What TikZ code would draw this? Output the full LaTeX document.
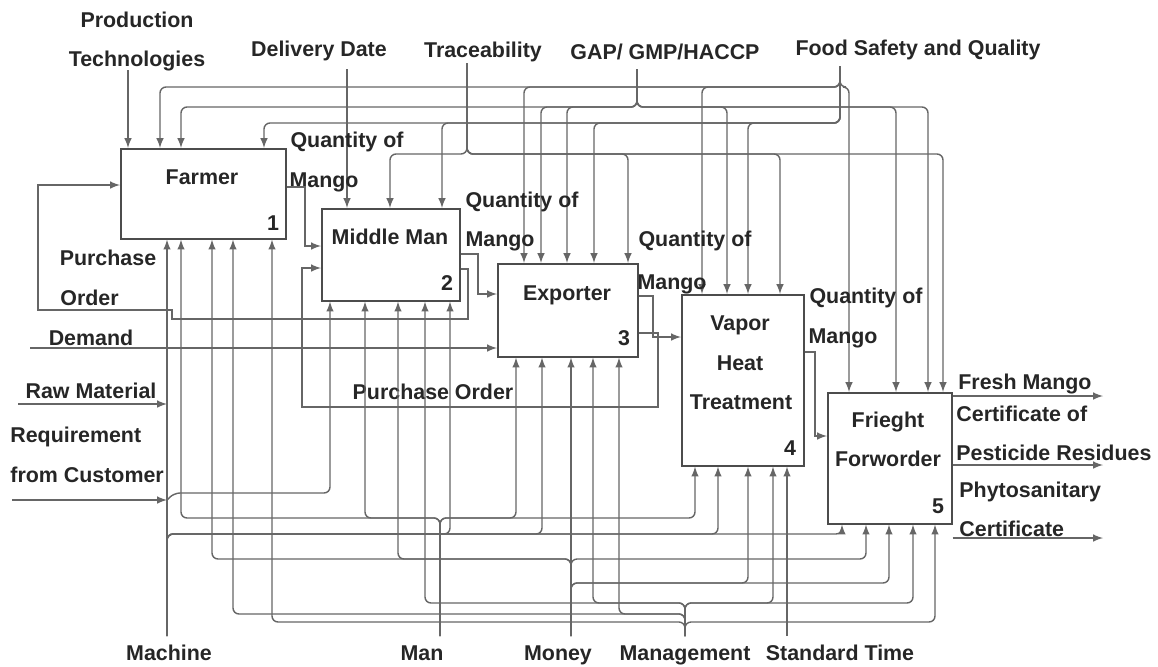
\documentclass[tikz,border=0pt]{standalone}
\usepackage{fontspec}
\setmainfont{Liberation Sans}
\usetikzlibrary{calc,positioning,arrows}

\begin{document}
\begin{tikzpicture}[x=0.5pt, y=-0.5pt,
  every node/.style={font=\bfseries\fontsize{10.7}{12}\selectfont, text=black!85},
  lbl/.style={inner sep=0pt, text height=7.7pt, text depth=0pt},
  process/.style={draw=black!70, line width=0.8pt, fill=white, inner sep=0pt, anchor=north west},
  flow/.style={draw=black!60, line width=0.7pt},
  arr/.style={flow, -latex},
  rail/.style={arr, rounded corners=3pt}]
  \useasboundingbox (0,0) rectangle (1158,666);

  % activities
  \node [process, minimum width=82.5pt, minimum height=45pt] (farmer) at (120,148) {};
  \node [process, minimum width=69pt, minimum height=46pt] (middle) at (321,208) {};
  \node [process, minimum width=70pt, minimum height=46.5pt] (exporter) at (497,263) {};
  \node [process, minimum width=61pt, minimum height=85.5pt] (vapor) at (681,294) {};
  \node [process, minimum width=62pt, minimum height=65.5pt] (frieght) at (827,392) {};

  \node [lbl] (farmer name) at (202,177) {Farmer};
  \node [lbl] (farmer num) at (273,223) {1};
  \node [lbl] (middle name) at (390,237) {Middle Man};
  \node [lbl] (middle num) at (447,283) {2};
  \node [lbl] (exporter name) at (567,293) {Exporter};
  \node [lbl] (exporter num) at (624,338) {3};
  \node [lbl] (vapor name 1) at (740,323) {Vapor};
  \node [lbl] (vapor name 2) at (740,363) {Heat};
  \node [lbl] (vapor name 3) at (741,402) {Treatment};
  \node [lbl] (vapor num) at (790,448) {4};
  \node [lbl] (frieght name 1) at (888,420) {Frieght};
  \node [lbl] (frieght name 2) at (888,459) {Forworder};
  \node [lbl] (frieght num) at (938,506) {5};

  % controls
  \node [lbl] (prod label 1) at (137,20) {Production};
  \node [lbl] (prod label 2) at (137,59) {Technologies};
  \node [lbl] (date label) at (319,49) {Delivery Date};
  \node [lbl] (trace label) at (483,50) {Traceability};
  \node [lbl] (gap label) at (665,52) {GAP/ GMP/HACCP};
  \node [lbl] (food label) at (918,48) {Food Safety and Quality};
  \coordinate (prod in) at (128,70);
  \coordinate (date in) at (347,69);
  \coordinate (trace in) at (467,63);
  \coordinate (gap in) at (637,69);
  \coordinate (food in) at (840,66);

  \draw [arr] (prod in) -- (prod in |- farmer.north);
  \draw [arr] (date in) -- (date in |- middle.north);
  \foreach \x/\b in {160/farmer,524/exporter,702/vapor,849/frieght}
    \draw [rail] (food in) |- (\x,87) -- (\x,0 |- \b.north);
  \foreach \x/\b in {264/farmer,442/middle,594/exporter,748/vapor}
    \draw [rail] (food in) |- (\x,123) -- (\x,0 |- \b.north);
  \foreach \x/\b in {181/farmer,541/exporter,567/exporter,727/vapor,896/frieght,928/frieght}
    \draw [rail] (gap in) |- (\x,107) -- (\x,0 |- \b.north);
  \foreach \x/\b in {390/middle,628/exporter,780/vapor,943/frieght}
    \draw [rail] (trace in) |- (\x,154) -- (\x,0 |- \b.north);

  % inputs
  \node [lbl] (po label 1) at (108,258) {Purchase};
  \node [lbl, anchor=west] (po label 2) at (60,298) {Order};
  \node [lbl] (demand label) at (91,338) {Demand};
  \node [lbl] (raw label) at (91,391) {Raw Material};
  \node [lbl, anchor=west] (req label 1) at (10,435) {Requirement};
  \node [lbl, anchor=west] (req label 2) at (10,475) {from Customer};
  \coordinate (demand in) at (30,348);
  \coordinate (raw in) at (18,404);
  \coordinate (req in) at (12,500);

  \draw [arr] (demand in) -- (demand in -| exporter.west);
  \draw [arr] (raw in) -- (raw in -| 167,0);
  \draw [arr] (req in) -- (req in -| 167,0);
  \draw [rail] (167,500) -- (174,493) -| (330,0 |- middle.south);

  % flows between activities
  \node [lbl] (q1 label 1) at (347,140) {Quantity of};
  \node [lbl] (q1 label 2) at (324,180) {Mango};
  \node [lbl] (q2 label 1) at (522,200) {Quantity of};
  \node [lbl] (q2 label 2) at (500,239) {Mango};
  \node [lbl] (q3 label 1) at (695,239) {Quantity of};
  \node [lbl] (q3 label 2) at (672,282) {Mango};
  \node [lbl] (q4 label 1) at (866,296) {Quantity of};
  \node [lbl] (q4 label 2) at (843,336) {Mango};
  \node [lbl] (po label 3) at (433,392) {Purchase Order};

  \draw [arr] (farmer.east |- 0,187) -| (305,246) -- (middle.west |- 0,246);
  \draw [arr] (middle.east |- 0,254) -| (478,294) -- (exporter.west |- 0,294);
  \draw [arr] (exporter.east |- 0,296) -| (653,337) -- (vapor.west |- 0,337);
  \draw [arr] (vapor.east |- 0,352) -| (815,436) -- (frieght.west |- 0,436);
  \draw [arr] (exporter.east |- 0,333) -| (658,407) -| (302,268) -- (middle.west |- 0,268);
  \draw [arr] (middle.east |- 0,269) -| (468,319) -- (172,319) -- (172,310) -| (38,185)
    -- (farmer.west |- 0,185);

  % outputs
  \node [lbl, anchor=west] (out label 1) at (958,382) {Fresh Mango};
  \node [lbl, anchor=west] (out label 2) at (956,414) {Certificate of};
  \node [lbl, anchor=west] (out label 3) at (956,453) {Pesticide Residues};
  \node [lbl, anchor=west] (out label 4) at (959,490) {Phytosanitary};
  \node [lbl, anchor=west] (out label 5) at (959,529) {Certificate};
  \foreach \y in {396,465,538}
    \draw [arr] (frieght.east |- 0,\y) -- (1103,\y);

  % mechanisms
  \node [lbl] (machine label) at (169,653) {Machine};
  \node [lbl] (man label) at (422,653) {Man};
  \node [lbl] (money label) at (558,653) {Money};
  \node [lbl] (mgmt label) at (685,653) {Management};
  \node [lbl] (time label) at (840,653) {Standard Time};
  \coordinate (machine out) at (167,636);
  \coordinate (man out) at (440,636);
  \coordinate (money out) at (571,636);
  \coordinate (mgmt out) at (685,636);
  \coordinate (time out) at (787,636);

  \draw [arr] (machine out) -- (machine out |- farmer.south);
  \draw [arr] (money out) -- (money out |- exporter.south);
  \draw [arr] (time out) -- (time out |- vapor.south);
  \foreach \x/\b in {450/middle,542/exporter,718/vapor,842/frieght}
    \draw [rail] (machine out) |- (\x,534) -- (\x,0 |- \b.south);
  \foreach \x/\b in {181/farmer,365/middle,516/exporter,695/vapor}
    \draw [rail] (man out) |- (\x,518) -- (\x,0 |- \b.south);
  \foreach \x/\b in {212/farmer,398/middle,866/frieght}
    \draw [rail] (money out) |- (\x,559) -- (\x,0 |- \b.south);
  \foreach \x/\b in {748/vapor,889/frieght}
    \draw [rail] (money out) |- (\x,583) -- (\x,0 |- \b.south);
  \foreach \x/\b in {425/middle,593/exporter,773/vapor,913/frieght}
    \draw [rail] (mgmt out) |- (\x,603) -- (\x,0 |- \b.south);
  \foreach \x/\b in {233/farmer,619/exporter}
    \draw [rail] (mgmt out) |- (\x,614) -- (\x,0 |- \b.south);
  \foreach \x/\b in {272/farmer,935/frieght}
    \draw [rail] (mgmt out) |- (\x,622) -- (\x,0 |- \b.south);
\end{tikzpicture}
\end{document}
